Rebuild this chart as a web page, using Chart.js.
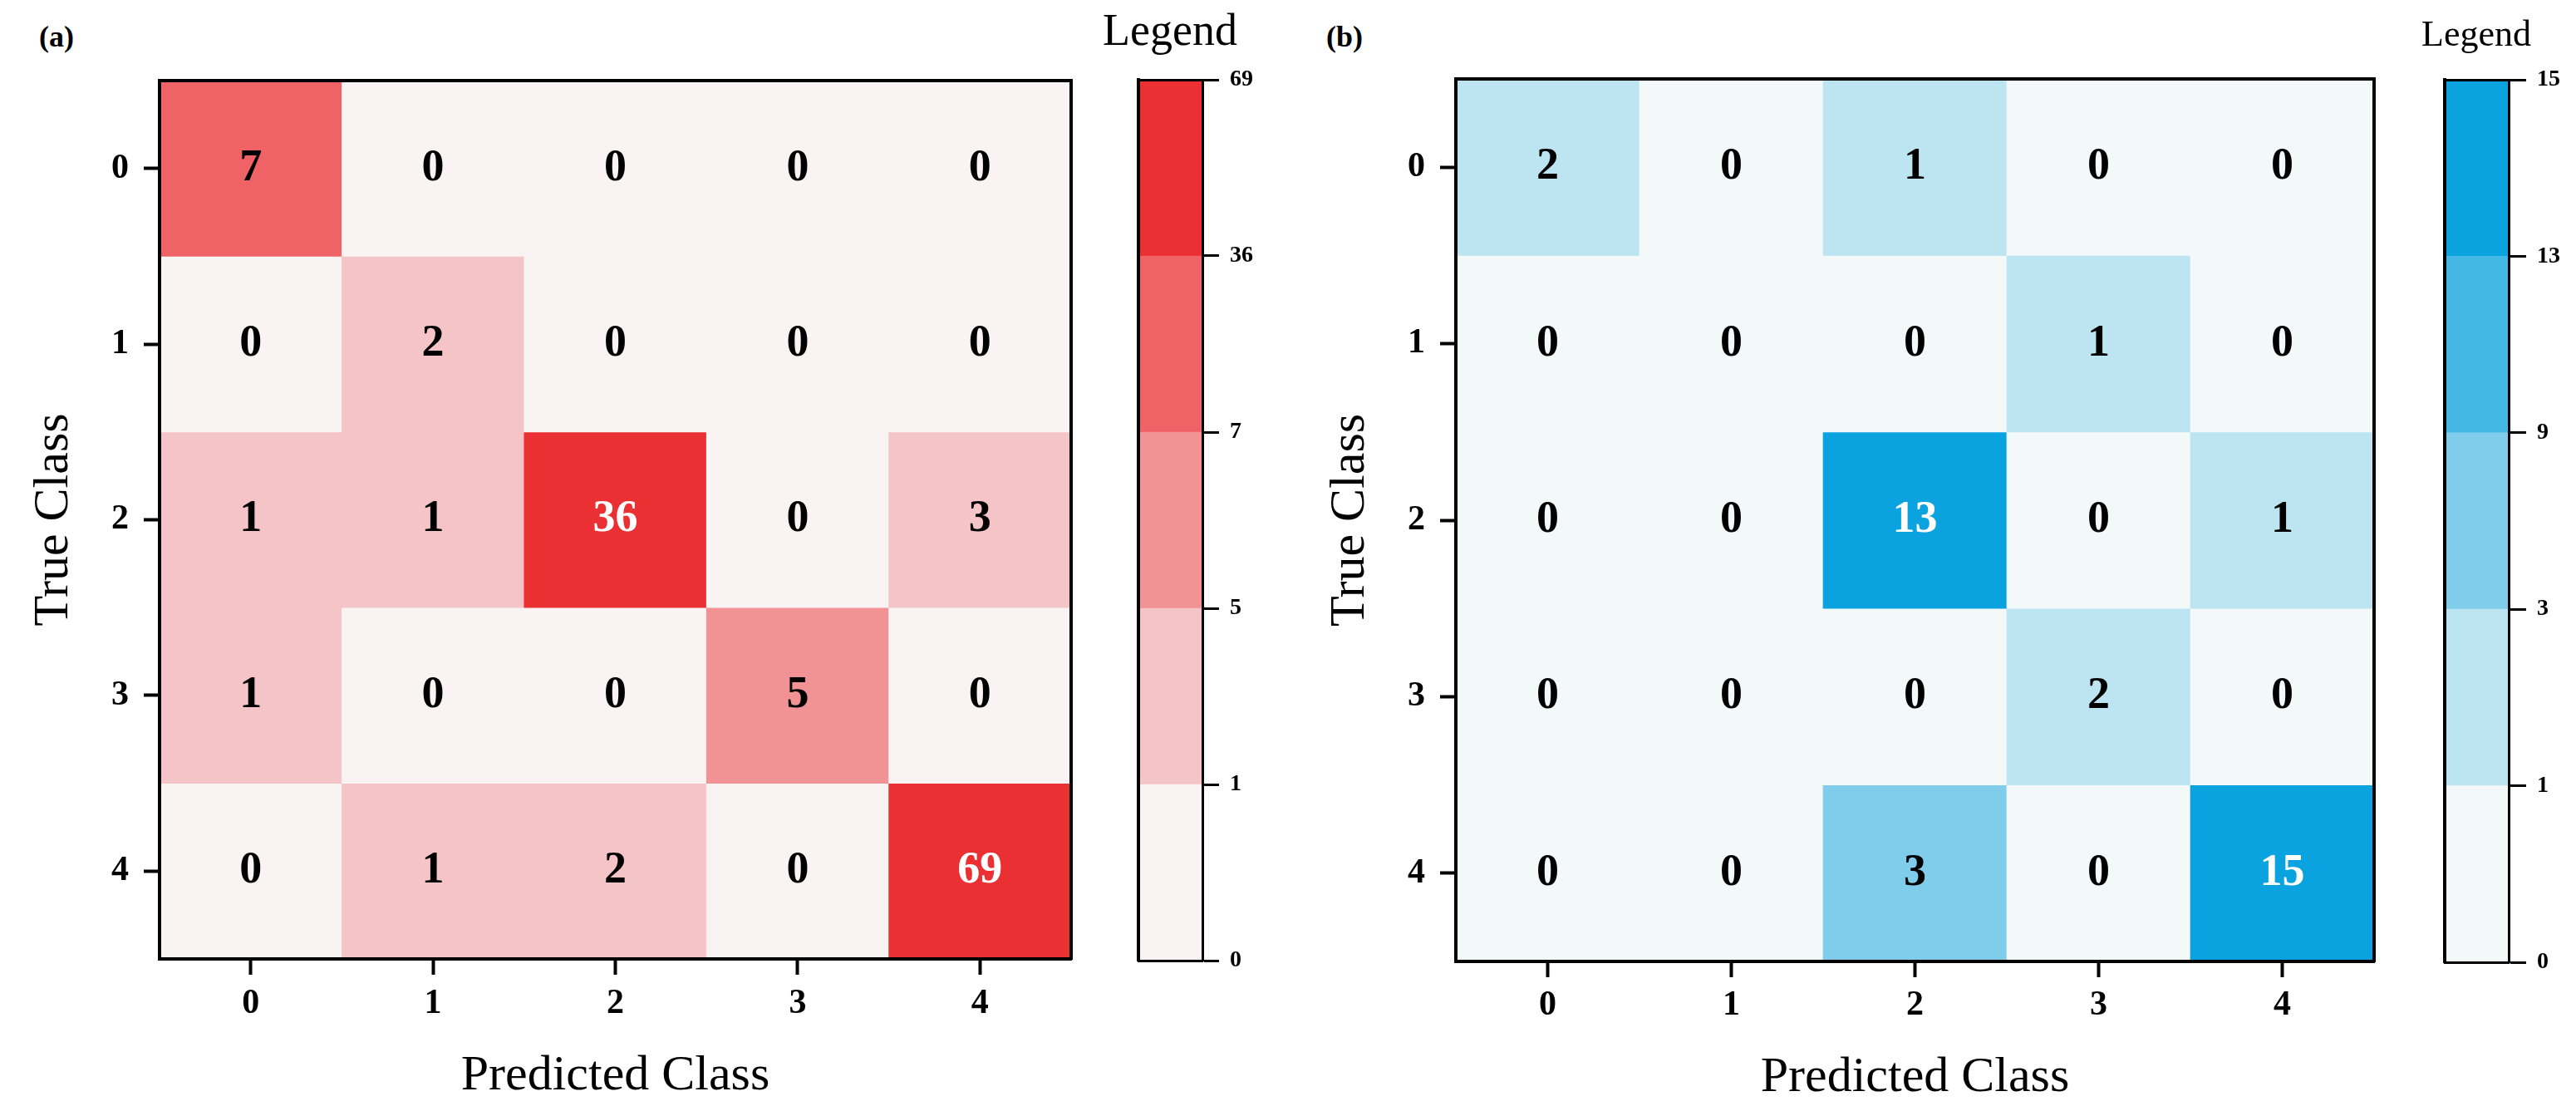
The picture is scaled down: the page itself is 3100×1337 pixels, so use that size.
<!DOCTYPE html>
<html>
<head>
<meta charset="utf-8">
<title>Confusion matrices</title>
<script src="https://cdn.jsdelivr.net/npm/chart.js@4.4.1/dist/chart.umd.min.js"></script>
<style>
    html, body { margin: 0; padding: 0; background: #fff; }
    body { width: 3100px; height: 1337px; position: relative; overflow: hidden; }
    .box { position: absolute; top: 0; height: 1337px; }
    .tag { position: absolute; top: 26px; font: bold 36px/36px "Liberation Serif", "Times New Roman", serif; color: #000; }
</style>
</head>
<body>
<div class="tag" style="left:47px">(a)</div>
<div class="tag" style="left:1596px">(b)</div>
<div class="box" style="left:0;width:1330px"><canvas id="matrixA"></canvas></div>
<div class="box" style="left:1300px;width:216px"><canvas id="legendA"></canvas></div>
<div class="box" style="left:1560px;width:1330px"><canvas id="matrixB"></canvas></div>
<div class="box" style="left:2872px;width:216px"><canvas id="legendB"></canvas></div>

<script>
// Class names on both axes
const classLabels = ['0', '1', '2', '3', '4'];

// Panel (a): counts, rows = true class, columns = predicted class
const countsA = [
    [7, 0, 0, 0, 0],
    [0, 2, 0, 0, 0],
    [1, 1, 36, 0, 3],
    [1, 0, 0, 5, 0],
    [0, 1, 2, 0, 69]
];
const boundsA = [0, 1, 5, 7, 36, 69];
const colorsA = ['#f9f4f3', '#f5c4c6', '#f19294', '#ef6266', '#eb3033'];

// Panel (b)
const countsB = [
    [2, 0, 1, 0, 0],
    [0, 0, 0, 1, 0],
    [0, 0, 13, 0, 1],
    [0, 0, 0, 2, 0],
    [0, 0, 3, 0, 15]
];
const boundsB = [0, 1, 3, 9, 13, 15];
const colorsB = ['#f3f8f8', '#bce4f1', '#80cdeb', '#45b7e4', '#0ba3df'];

const serif = '"Liberation Serif", "Times New Roman", serif';
Chart.defaults.font.family = serif;
Chart.defaults.color = '#000';

// which colour band a count falls in
function bandOf(v, bounds) {
    for (let i = bounds.length - 2; i >= 0; i--) {
        if (v >= bounds[i]) return i;
    }
    return 0;
}

// writes the count in the middle of every cell
const cellText = {
    id: 'cellText',
    afterDatasetsDraw(chart) {
        const ctx = chart.ctx;
        ctx.save();
        ctx.font = 'bold 54px ' + serif;
        ctx.textAlign = 'center';
        ctx.textBaseline = 'middle';
        chart.data.datasets.forEach((ds, i) => {
            chart.getDatasetMeta(i).data.forEach((bar, j) => {
                const p = bar.getProps(['x', 'y', 'base'], true);
                ctx.fillStyle = ds.textColors[j];
                ctx.fillText(String(ds.counts[j]), p.x, (p.y + p.base) / 2);
            });
        });
        ctx.restore();
    }
};

function frameAxis(type, position, size, width) {
    const axis = {
        type: type,
        position: position,
        display: true,
        grid: { display: false },
        ticks: { display: false },
        border: { display: true, width: width, color: '#000', z: 1 },
        afterFit: function(scale) {
            if (position === 'top' || position === 'bottom') scale.height = size;
            else scale.width = size;
        }
    };
    if (type === 'category') {
        axis.labels = ['c'];
        axis.offset = true;
    }
    return axis;
}

function matrixChart(id, counts, bounds, colors, geo) {
    const top = colors.length - 1;
    const datasets = counts.map((row, r) => ({
        data: row.map(() => [r - 0.5, r + 0.5]),
        counts: row,
        backgroundColor: row.map(v => colors[bandOf(v, bounds)]),
        textColors: row.map(v => bandOf(v, bounds) === top ? '#ffffff' : '#000000'),
        borderWidth: 0,
        grouped: false,
        barPercentage: 1,
        categoryPercentage: 1,
        xAxisID: 'x',
        yAxisID: 'y'
    }));

    const xTop = frameAxis('category', 'top', 0, 4);
    xTop.labels = classLabels;
    const yRight = frameAxis('linear', 'right', 0, 4);

    return new Chart(document.getElementById(id), {
        type: 'bar',
        data: { labels: classLabels, datasets: datasets },
        options: {
            responsive: true,
            maintainAspectRatio: false,
            animation: false,
            layout: { padding: { top: geo.padTop, right: geo.padRight, bottom: 0, left: 0 } },
            plugins: {
                legend: { display: false },
                tooltip: { enabled: false },
                title: { display: false }
            },
            scales: {
                x: {
                    type: 'category',
                    position: 'bottom',
                    offset: true,
                    grid: { display: true, offset: false, drawOnChartArea: false, tickLength: 19, tickWidth: 4, tickColor: '#000' },
                    border: { display: true, width: 4, color: '#000', z: 1 },
                    ticks: { color: '#000', padding: geo.xTickPad, maxRotation: 0, autoSkip: false,
                             font: { size: 42, weight: 'bold' } },
                    title: { display: true, text: 'Predicted Class', color: '#000',
                             font: { size: 60, weight: 'normal' }, padding: { top: 0, bottom: geo.xTitlePad } },
                    afterFit: function(scale) { scale.height = geo.xAxisH; }
                },
                y: {
                    type: 'linear',
                    position: 'left',
                    min: -0.5,
                    max: 4.5,
                    reverse: true,
                    afterBuildTicks: function(scale) {
                        scale.ticks = classLabels.map((_, i) => ({ value: i }));
                    },
                    grid: { display: true, drawOnChartArea: false, tickLength: 19, tickWidth: 4, tickColor: '#000' },
                    border: { display: true, width: 4, color: '#000', z: 1 },
                    ticks: { color: '#000', padding: 18, font: { size: 42, weight: 'bold' },
                             callback: v => classLabels[v] },
                    title: { display: true, text: 'True Class', color: '#000',
                             font: { size: 60, weight: 'normal' }, padding: { top: geo.yTitlePad, bottom: 0 } },
                    afterFit: function(scale) { scale.width = geo.yAxisW; }
                },
                xTop: xTop,
                yRight: yRight
            }
        },
        plugins: [cellText]
    });
}

function legendChart(id, bounds, colors, geo) {
    const datasets = colors.map((c, i) => ({
        data: [[i, i + 1]],
        backgroundColor: c,
        borderWidth: 0,
        grouped: false,
        barPercentage: 1,
        categoryPercentage: 1,
        xAxisID: 'x',
        yAxisID: 'y'
    }));

    return new Chart(document.getElementById(id), {
        type: 'bar',
        data: { labels: ['c'], datasets: datasets },
        options: {
            responsive: true,
            maintainAspectRatio: false,
            animation: false,
            layout: { padding: { top: 0, right: 0, bottom: geo.padBottom, left: 0 } },
            plugins: {
                legend: { display: false },
                tooltip: { enabled: false },
                title: {
                    display: true,
                    text: 'Legend',
                    color: '#000',
                    font: { size: geo.titleSize, weight: 'normal' },
                    padding: { top: geo.titleTop, bottom: geo.titleBottom }
                }
            },
            scales: {
                x: frameAxis('category', 'bottom', 0, 3),
                xTop: frameAxis('category', 'top', 0, 3),
                yLeft: frameAxis('linear', 'left', geo.leftW, 4),
                y: {
                    type: 'linear',
                    position: 'right',
                    min: 0,
                    max: colors.length,
                    afterBuildTicks: function(scale) {
                        scale.ticks = bounds.map((_, i) => ({ value: i }));
                    },
                    grid: { display: true, drawOnChartArea: false, tickLength: geo.tickLen, tickWidth: 3, tickColor: '#000' },
                    border: { display: true, width: 3, color: '#000', z: 1 },
                    ticks: { color: '#000', padding: 13, font: { size: 28, weight: 'bold' },
                             callback: v => String(bounds[v]) },
                    afterFit: function(scale) { scale.width = geo.rightW; }
                }
            }
        }
    });
}

matrixChart('matrixA', countsA, boundsA, colorsA,
    { padTop: 97, padRight: 41, yAxisW: 192, xAxisH: 183, xTickPad: 10, xTitlePad: 6, yTitlePad: 29 });
legendChart('legendA', boundsA, colorsA,
    { leftW: 70, rightW: 69, padBottom: 181, tickLen: 20, titleSize: 54, titleTop: 7.6, titleBottom: 23.6 });

matrixChart('matrixB', countsB, boundsB, colorsB,
    { padTop: 95, padRight: 33, yAxisW: 192, xAxisH: 180, xTickPad: 9, xTitlePad: 4, yTitlePad: 29 });
legendChart('legendB', boundsB, colorsB,
    { leftW: 70, rightW: 69, padBottom: 179, tickLen: 21, titleSize: 44, titleTop: 16.6, titleBottom: 26.6 });
</script>
</body>
</html>
